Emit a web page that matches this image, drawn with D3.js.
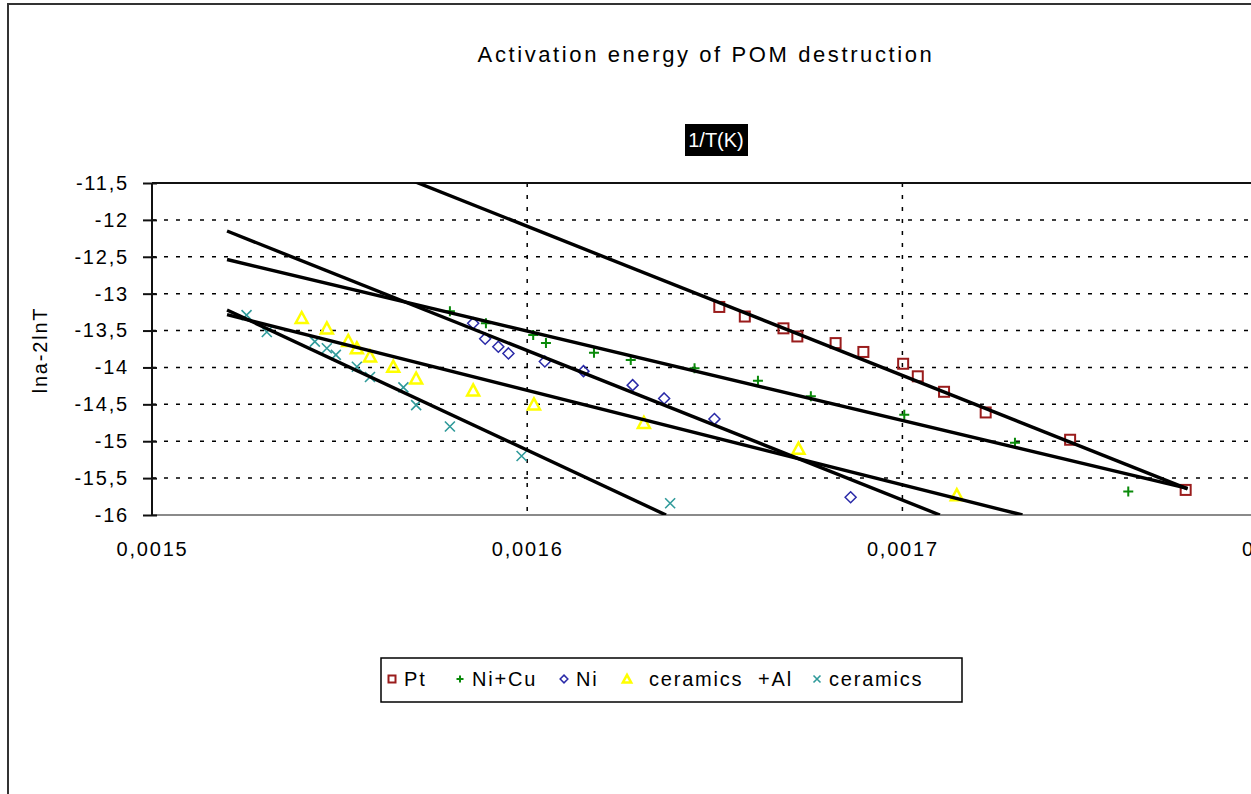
<!DOCTYPE html>
<html>
<head>
<meta charset="utf-8">
<script src="https://cdn.jsdelivr.net/npm/d3@7"></script>
<style>
  html, body { margin: 0; padding: 0; background: #fff; }
  svg { display: block; font-family: "Liberation Sans", Arial, sans-serif; }
</style>
</head>
<body>
<svg id="chart" width="1251" height="794"></svg>
<script>
// Activation energy of POM destruction - ln(a) - 2ln(T) against 1/T

// axis ticks
var xTicks = [0.0015, 0.0016, 0.0017, 0.0018]
var xTickLabels = ["0,0015", "0,0016", "0,0017", "0,0018"]
var yTicks = [-11.5, -12, -12.5, -13, -13.5, -14, -14.5, -15, -15.5, -16]
var yTickLabels = ["-11,5", "-12", "-12,5", "-13", "-13,5", "-14", "-14,5", "-15", "-15,5", "-16"]

// series names (legend order)
var seriesNames = ["Pt", "Ni+Cu", "Ni", "ceramics  +Al", "ceramics"]

// Pt
var ptX = [0.0016512, 0.0016580, 0.0016683, 0.0016720, 0.0016822, 0.0016896, 0.0017002, 0.0017041, 0.0017111, 0.0017222, 0.0017447, 0.0017755]
var ptY = [-13.18, -13.31, -13.47, -13.58, -13.67, -13.79, -13.95, -14.12, -14.33, -14.61, -14.98, -15.66]

// Ni+Cu
var niCuX = [0.0015794, 0.0015890, 0.0016016, 0.0016050, 0.0016178, 0.0016276, 0.0016446, 0.0016615, 0.0016756, 0.0017005, 0.0017300, 0.0017602]
var niCuY = [-13.24, -13.40, -13.56, -13.67, -13.80, -13.90, -14.01, -14.18, -14.39, -14.64, -15.02, -15.68]

// Ni
var niX = [0.0015856, 0.0015888, 0.0015923, 0.0015950, 0.0016047, 0.0016150, 0.0016281, 0.0016365, 0.0016499, 0.0016862]
var niY = [-13.40, -13.61, -13.72, -13.81, -13.92, -14.05, -14.24, -14.42, -14.70, -15.76]

// ceramics +Al
var cerAlX = [0.0015399, 0.0015466, 0.0015523, 0.0015546, 0.0015581, 0.0015643, 0.0015704, 0.0015856, 0.0016018, 0.0016311, 0.0016723, 0.0017145]
var cerAlY = [-13.33, -13.47, -13.64, -13.74, -13.85, -13.99, -14.15, -14.31, -14.50, -14.75, -15.10, -15.73]

// ceramics
var cerX = [0.0015252, 0.0015306, 0.0015434, 0.0015466, 0.0015490, 0.0015546, 0.0015581, 0.0015670, 0.0015704, 0.0015794, 0.0015985, 0.0016381]
var cerY = [-13.29, -13.52, -13.65, -13.74, -13.83, -13.99, -14.13, -14.27, -14.51, -14.80, -15.20, -15.84]

// linear trend lines, [x, y] at both ends (clipped by the plot area)
var trendPt = [[0.00152, -10.47], [0.001776, -15.645]]
var trendNiCu = [[0.00152, -12.537], [0.001776, -15.64]]
var trendNi = [[0.00152, -12.151], [0.00171, -16.0]]
var trendCerAl = [[0.00152, -13.285], [0.001732, -16.0]]
var trendCer = [[0.00152, -13.221], [0.001637, -16.0]]

var svg = d3.select("#chart")

var plot = { left: 152, top: 183, bottom: 515, right: 152 + 3 * 375.2 }

var x = d3.scaleLinear().domain([0.0015, 0.0018]).range([plot.left, plot.right])
var y = d3.scaleLinear().domain([-11.5, -16]).range([plot.top, plot.bottom])

svg.append("rect").attr("width", 1251).attr("height", 794).attr("fill", "#fff")

// outer chart frame (right and bottom edges fall outside the view)
svg.append("rect")
  .attr("x", 8).attr("y", 4)
  .attr("width", 1400).attr("height", 900)
  .attr("fill", "none").attr("stroke", "#333").attr("stroke-width", 2)

// title
svg.append("text")
  .attr("x", 706).attr("y", 62)
  .attr("text-anchor", "middle")
  .style("font-size", "22px")
  .style("letter-spacing", "2.6px")
  .text("Activation energy of POM destruction")

// x axis title in a black box
svg.append("rect")
  .attr("x", 685).attr("y", 124).attr("width", 63).attr("height", 32)
  .attr("fill", "#000")
svg.append("text")
  .attr("x", 716).attr("y", 147)
  .attr("text-anchor", "middle")
  .attr("fill", "#fff")
  .style("font-size", "20px")
  .text("1/T(K)")

// y axis title
svg.append("text")
  .attr("transform", "translate(47,350) rotate(-90)")
  .attr("text-anchor", "middle")
  .style("font-size", "20px")
  .style("letter-spacing", "1.8px")
  .text("lna-2lnT")

// gridlines
var grid = svg.append("g")
grid.selectAll(".hgrid")
  .data(yTicks.slice(1, -1))
  .enter().append("line")
  .attr("x1", plot.left).attr("x2", plot.right)
  .attr("y1", function(d) { return y(d) }).attr("y2", function(d) { return y(d) })
  .attr("stroke", "#000").attr("stroke-width", 1.5)
  .attr("stroke-dasharray", "4,8")
grid.selectAll(".vgrid")
  .data(xTicks.slice(1, -1))
  .enter().append("line")
  .attr("y1", plot.top).attr("y2", plot.bottom)
  .attr("x1", function(d) { return x(d) }).attr("x2", function(d) { return x(d) })
  .attr("stroke", "#000").attr("stroke-width", 1.5)
  .attr("stroke-dasharray", "4,8")

// plot area border: top dark, bottom grey
svg.append("line")
  .attr("x1", plot.left).attr("x2", plot.right)
  .attr("y1", plot.top).attr("y2", plot.top)
  .attr("stroke", "#111").attr("stroke-width", 2)
svg.append("line")
  .attr("x1", plot.left).attr("x2", plot.right)
  .attr("y1", plot.bottom).attr("y2", plot.bottom)
  .attr("stroke", "#8a8a8a").attr("stroke-width", 2)

// y axis
var yAxis = svg.append("g")
  .attr("transform", "translate(" + plot.left + ",0)")
  .call(d3.axisLeft(y)
    .tickValues(yTicks)
    .tickSize(9)
    .tickPadding(14)
    .tickFormat(function(d, i) { return yTickLabels[i] }))
yAxis.select(".domain").remove()
yAxis.selectAll(".tick line").attr("x1", 5).attr("stroke", "#111").attr("stroke-width", 2)
yAxis.selectAll(".tick text")
  .attr("fill", "#000")
  .style("font-size", "20px")
  .style("letter-spacing", "1.8px")
  .style("font-family", "Liberation Sans, Arial, sans-serif")
yAxis.append("line")
  .attr("y1", plot.top).attr("y2", plot.bottom)
  .attr("stroke", "#111").attr("stroke-width", 2)

// x axis labels
var xAxis = svg.append("g")
  .attr("transform", "translate(0," + plot.bottom + ")")
  .call(d3.axisBottom(x)
    .tickValues(xTicks)
    .tickSize(0)
    .tickPadding(27)
    .tickFormat(function(d, i) { return xTickLabels[i] }))
xAxis.select(".domain").remove()
xAxis.selectAll(".tick text")
  .attr("fill", "#000")
  .style("font-size", "20px")
  .style("letter-spacing", "1.8px")
  .style("font-family", "Liberation Sans, Arial, sans-serif")

// marker drawing
var colors = ["#9a1c1c", "#0a8a0a", "#2a2aa8", "#ffff00", "#2f9a9a"]

function marker(g, shape, color, s) {
  if (shape === "square") {
    g.append("rect").attr("x", -s / 2).attr("y", -s / 2).attr("width", s).attr("height", s)
      .attr("fill", "none").attr("stroke", color).attr("stroke-width", 2)
  } else if (shape === "plus") {
    g.append("path").attr("d", "M" + (-s / 2) + ",0H" + (s / 2) + "M0," + (-s / 2) + "V" + (s / 2))
      .attr("stroke", color).attr("stroke-width", 2)
  } else if (shape === "diamond") {
    var h = s * 0.55
    g.append("path").attr("d", "M0," + (-h) + "L" + h + ",0L0," + h + "L" + (-h) + ",0Z")
      .attr("fill", "none").attr("stroke", color).attr("stroke-width", 1.5)
  } else if (shape === "triangle") {
    var t = s * 0.6
    g.append("path").attr("d", "M0," + (-t) + "L" + t + "," + (t * 0.85) + "L" + (-t) + "," + (t * 0.85) + "Z")
      .attr("fill", "none").attr("stroke", color).attr("stroke-width", 2.5)
  } else if (shape === "cross") {
    var c = s / 2
    g.append("path").attr("d", "M" + (-c) + "," + (-c) + "L" + c + "," + c + "M" + (-c) + "," + c + "L" + c + "," + (-c))
      .attr("stroke", color).attr("stroke-width", 1.6)
  }
}

var shapes = ["square", "plus", "diamond", "triangle", "cross"]
var seriesX = [ptX, niCuX, niX, cerAlX, cerX]
var seriesY = [ptY, niCuY, niY, cerAlY, cerY]

seriesX.forEach(function(xs, si) {
  var pts = xs.map(function(v, i) { return [v, seriesY[si][i]] })
  svg.append("g").selectAll("g")
    .data(pts)
    .enter().append("g")
    .attr("transform", function(d) { return "translate(" + x(d[0]) + "," + y(d[1]) + ")" })
    .each(function() { marker(d3.select(this), shapes[si], colors[si], 10) })
})

// trend lines
svg.append("clipPath").attr("id", "plotclip")
  .append("rect")
  .attr("x", plot.left).attr("y", plot.top)
  .attr("width", plot.right - plot.left).attr("height", plot.bottom - plot.top)

var line = d3.line().x(function(d) { return x(d[0]) }).y(function(d) { return y(d[1]) })

svg.append("g").attr("clip-path", "url(#plotclip)")
  .selectAll("path")
  .data([trendPt, trendNiCu, trendNi, trendCerAl, trendCer])
  .enter().append("path")
  .attr("d", line)
  .attr("fill", "none")
  .attr("stroke", "#000")
  .attr("stroke-width", 3.4)

// legend
var legendMarkerX = [392, 460, 564, 627, 817]
var legend = svg.append("g")
legend.append("rect")
  .attr("x", 381).attr("y", 658).attr("width", 581).attr("height", 44)
  .attr("fill", "#fff").attr("stroke", "#000").attr("stroke-width", 1.5)

seriesNames.forEach(function(name, i) {
  var g = legend.append("g").attr("transform", "translate(" + legendMarkerX[i] + ",679)")
  marker(g, shapes[i], colors[i], 7)
  g.append("text")
    .attr("x", i === 3 ? 22 : 12).attr("y", 7)
    .style("font-size", "20px")
    .style("letter-spacing", "1.8px")
    .style("white-space", "pre")
    .text(name)
})
</script>
</body>
</html>
